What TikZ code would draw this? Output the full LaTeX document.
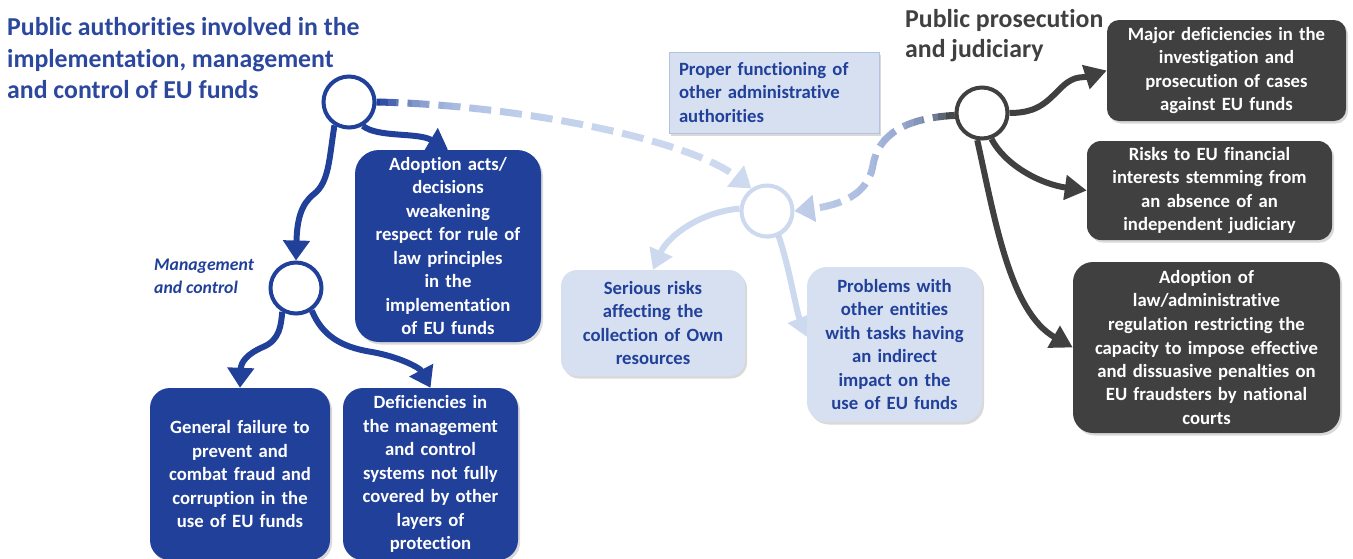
\documentclass[tikz,border=0pt]{standalone}
\usepackage{fontspec}
\setmainfont{Carlito}[Ligatures=NoCommon]
\usetikzlibrary{arrows.meta,shadows,backgrounds}

\definecolor{euBlue}{RGB}{33,64,154}
\definecolor{titleBlue}{RGB}{44,72,158}
\definecolor{paleBlue}{RGB}{214,224,241}
\definecolor{paleLine}{RGB}{205,217,238}
\definecolor{paleEdge}{RGB}{180,195,220}
\definecolor{dashBlue}{RGB}{178,197,232}
\definecolor{midBlue}{RGB}{120,148,208}
\definecolor{darkGrey}{RGB}{64,64,64}

\newcommand\boxfont{\fontsize{18.7}{23.5}\selectfont\bfseries}

\begin{document}
\begin{tikzpicture}[x=1pt,y=1pt,
  hub/.style={circle, minimum size=51pt, inner sep=0pt, line width=4pt, fill=white,
    drop shadow={opacity=.25, shadow xshift=1.5pt, shadow yshift=-2pt}},
  card/.style={align=center, inner xsep=3pt, inner ysep=0pt, font=\boxfont,
    drop shadow={opacity=.3, shadow xshift=2pt, shadow yshift=-2.5pt}},
  bluecard/.style={card, fill=euBlue, text=white},
  palecard/.style={card, fill=paleBlue, text=euBlue},
  greycard/.style={card, fill=darkGrey, text=white},
  blueflow/.style={draw=euBlue, line width=6pt, -{Triangle[width=26pt,length=20pt]}},
  paleflow/.style={draw=paleLine, line width=6pt, -{Triangle[width=24pt,length=20pt]}},
  greyflow/.style={draw=darkGrey, line width=6pt, -{Triangle[width=24pt,length=22pt]}},
  dashflow/.style={line width=7pt, dash pattern=on 22pt off 9pt, -{Triangle[width=26pt,length=20pt]}}
]
\useasboundingbox (0,0) rectangle (1353,-558);

% headings
\node[anchor=north west, inner sep=0pt, align=left, text=titleBlue,
  font=\fontsize{25.8}{31.7}\selectfont\bfseries] (leftTitle) at (7,-17)
  {Public authorities involved in the\\implementation, management\\and control of EU funds};
\node[anchor=north west, inner sep=0pt, align=left, text=darkGrey,
  font=\fontsize{25.8}{30}\selectfont\bfseries] (rightTitle) at (905,-9)
  {Public prosecution\\and judiciary};
\node[anchor=north west, inner sep=0pt, align=left, text=euBlue,
  font=\fontsize{17.7}{22.5}\selectfont\bfseries\itshape] (mgLabel) at (154,-259)
  {Management\\and control};

% hubs
\node[hub, draw=euBlue] (pa) at (349,-102) {};
\node[hub, draw=euBlue] (mc) at (296,-288) {};
\node[hub, draw=paleLine] (oa) at (767,-211) {};
\node[hub, draw=darkGrey] (pj) at (982,-113) {};

% blue cards
\node[bluecard, rounded corners=24pt, minimum width=186pt, text width=180pt, minimum height=192pt] (aa) at (448,-246)
  {Adoption acts/\\decisions\\weakening\\respect for rule of\\law principles\\in the\\implementation\\of EU funds};
\node[bluecard, rounded corners=20pt, minimum width=180pt, text width=174pt, minimum height=172pt] (gf) at (240,-474)
  {General failure to\\prevent and\\combat fraud and\\corruption in the\\use of EU funds};
\node[bluecard, rounded corners=20pt, minimum width=175pt, text width=169pt, minimum height=172pt] (df) at (430.5,-474)
  {Deficiencies in\\the management\\and control\\systems not fully\\covered by other\\layers of\\protection};

% pale cards
\node[palecard, rounded corners=16pt, minimum width=184pt, text width=178pt, minimum height=106pt] (sr) at (653,-323)
  {Serious risks\\affecting the\\collection of Own\\resources};
\node[palecard, rounded corners=20pt, minimum width=175pt, text width=169pt, minimum height=155pt] (pw) at (894.5,-344.5)
  {Problems with\\other entities\\with tasks having\\an indirect\\impact on the\\use of EU funds};
\node[palecard, drop shadow={opacity=0}, draw=paleEdge, line width=.8pt, align=left, inner xsep=10pt,
  minimum width=210pt, text width=190pt, minimum height=81pt] (pf) at (774,-92.5)
  {Proper functioning of\\other administrative\\authorities};

% grey cards
\node[greycard, rounded corners=12pt, minimum width=239pt, text width=233pt, minimum height=101pt] (md) at (1226.5,-70.5)
  {Major deficiencies in the\\investigation and\\prosecution of cases\\against EU funds};
\node[greycard, rounded corners=14pt, minimum width=245pt, text width=239pt, minimum height=99pt] (rf) at (1209.5,-190.5)
  {Risks to EU financial\\interests stemming from\\an absence of an\\independent judiciary};
\node[greycard, rounded corners=20pt, minimum width=267pt, text width=261pt, minimum height=171pt] (al) at (1206.5,-347.5)
  {Adoption of\\law/administrative\\regulation restricting the\\capacity to impose effective\\and dissuasive penalties on\\EU fraudsters by national\\courts};

\begin{scope}[on background layer]
  % solid connectors
  \draw[blueflow] (pa.238) .. controls (329,-160) and (329,-182) .. (314,-194)
    .. controls (301,-204) and (297,-220) .. (mc.north);
  \draw[blueflow] (pa.300) .. controls (378,-138) and (418,-132) .. (aa.north);
  \draw[blueflow] (mc.240) .. controls (281,-325) and (280,-340) .. (263,-347)
    .. controls (247,-354) and (241,-362) .. (gf.north);
  \draw[blueflow] (mc.305) .. controls (322,-335) and (340,-347) .. (372,-352)
    .. controls (400,-357) and (420,-368) .. (df.north);
  \draw[paleflow] (oa.175) .. controls (700,-212) and (668,-236) .. (sr.north);
  \draw[paleflow] (oa.-65) .. controls (790,-270) and (796,-310) .. (pw.175);
  \draw[greyflow] (pj.east) .. controls (1040,-113) and (1048,-100) .. (1063,-86)
    .. controls (1075,-75) and (1083,-78) .. (md.west);
  \draw[greyflow] (pj.-70) .. controls (1005,-165) and (1040,-184) .. (rf.west);
  \draw[greyflow] (pj.-100) .. controls (995,-220) and (1010,-312) .. (al.west);

  % dashed connector, blue fading to pale, drawn strip by strip
  \foreach \s in {0,...,49} {
    \pgfmathsetmacro\xl{372+8*\s}
    \pgfmathsetmacro\dx{max(0,\xl+4-380)}
    \pgfmathtruncatemacro\pc{100*exp(-\dx/45)}
    \pgfmathtruncatemacro\qc{100*exp(-\dx/260)}
    \begin{scope}
      \clip (\xl,0) rectangle ++(8.6,-558);
      \draw[dashflow, draw=euBlue!\pc!dashBlue!\qc!paleBlue]
        (pa.east) .. controls (520,-105) and (690,-140) .. (oa.125);
    \end{scope}
  }
  % dashed connector, grey through blue to pale
  \foreach \s in {0,...,23} {
    \pgfmathsetmacro\xl{770+8*\s}
    \pgfmathsetmacro\tt{max(0,952-(\xl+4))}
    \pgfmathtruncatemacro\g{100*exp(-\tt/30)}
    \pgfmathtruncatemacro\m{100*exp(-\tt/110)}
    \begin{scope}
      \clip (\xl,0) rectangle ++(8.6,-558);
      \draw[dashflow, draw=darkGrey!\g!midBlue!\m!paleBlue]
        (pj.185) .. controls (905,-118) and (878,-135) .. (873,-165)
        .. controls (868,-195) and (840,-205) .. (oa.east);
    \end{scope}
  }
\end{scope}
\end{tikzpicture}
\end{document}
